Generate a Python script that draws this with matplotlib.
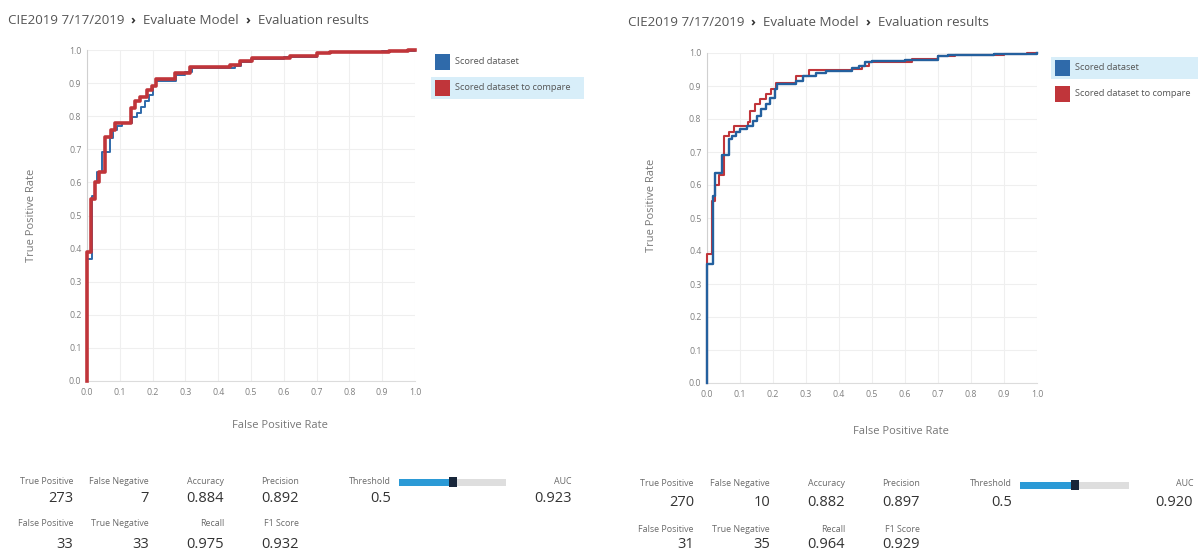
import matplotlib
matplotlib.use("Agg")
import matplotlib.pyplot as plt
from matplotlib.patches import Rectangle

W, H = 1198, 554

# ---- text content -------------------------------------------------------
BREADCRUMB = ["CIE2019 7/17/2019", "Evaluate Model", "Evaluation results"]
SERIES_NAMES = ["Scored dataset", "Scored dataset to compare"]
AXIS_TICKS = [0.0, 0.1, 0.2, 0.3, 0.4, 0.5, 0.6, 0.7, 0.8, 0.9, 1.0]
X_TITLE = "False Positive Rate"
Y_TITLE = "True Positive Rate"
COUNT_LABELS = ["True Positive", "False Negative", "False Positive", "True Negative"]
SCORE_LABELS = ["Accuracy", "Precision", "Recall", "F1 Score"]

# ---- left run: ROC curves (fpr where the curve rises, tpr it rises to) ----
left_scored_fpr = [0.0, 0.0, 0.015, 0.024, 0.030, 0.045, 0.070, 0.080, 0.090, 0.107,
                   0.136, 0.152, 0.166, 0.178, 0.190, 0.200, 0.210, 0.270, 0.300,
                   0.320, 0.450, 0.470, 0.500, 0.600, 0.700, 0.740, 0.900, 1.0]
left_scored_tpr = [0.0, 0.37, 0.56, 0.60, 0.632, 0.693, 0.733, 0.758, 0.770, 0.780,
                   0.797, 0.810, 0.829, 0.845, 0.864, 0.890, 0.905, 0.925, 0.935,
                   0.945, 0.953, 0.965, 0.973, 0.980, 0.990, 0.995, 0.998, 1.0]
left_compare_fpr = [0.0, 0.0, 0.012, 0.024, 0.038, 0.055, 0.072, 0.085, 0.133, 0.146,
                    0.162, 0.184, 0.197, 0.210, 0.268, 0.314, 0.436, 0.466, 0.502,
                    0.620, 0.700, 0.740, 0.920, 0.980, 1.0]
left_compare_tpr = [0.0, 0.39, 0.55, 0.60, 0.632, 0.738, 0.758, 0.780, 0.824, 0.846,
                    0.857, 0.879, 0.890, 0.911, 0.931, 0.949, 0.955, 0.968, 0.975,
                    0.982, 0.990, 0.995, 0.998, 1.0, 1.0]
left_counts = [273, 7, 33, 33]
left_scores = [0.884, 0.892, 0.975, 0.932]
left_threshold = 0.5
left_auc = 0.923

# ---- right run -------------------------------------------------------------
right_scored_fpr = [0.0, 0.0, 0.017, 0.024, 0.045, 0.067, 0.077, 0.088, 0.100, 0.120,
                    0.140, 0.150, 0.165, 0.180, 0.190, 0.206, 0.213, 0.270, 0.290,
                    0.330, 0.360, 0.440, 0.460, 0.480, 0.500, 0.600, 0.700, 0.730,
                    0.870, 1.0]
right_scored_tpr = [0.0, 0.36, 0.568, 0.637, 0.690, 0.739, 0.750, 0.760, 0.770, 0.780,
                    0.795, 0.810, 0.830, 0.845, 0.865, 0.890, 0.905, 0.915, 0.930,
                    0.940, 0.945, 0.955, 0.962, 0.972, 0.975, 0.980, 0.990, 0.995,
                    0.998, 1.0]
right_compare_fpr = [0.0, 0.0, 0.015, 0.025, 0.035, 0.052, 0.068, 0.083, 0.125, 0.130,
                     0.145, 0.160, 0.180, 0.195, 0.210, 0.270, 0.310, 0.440, 0.470,
                     0.490, 0.620, 0.700, 0.750, 0.900, 0.970, 1.0]
right_compare_tpr = [0.0, 0.39, 0.55, 0.60, 0.630, 0.750, 0.760, 0.780, 0.790, 0.825,
                     0.845, 0.860, 0.875, 0.890, 0.910, 0.930, 0.948, 0.953, 0.962,
                     0.972, 0.982, 0.990, 0.995, 0.998, 1.0, 1.0]
right_counts = [270, 10, 31, 35]
right_scores = [0.882, 0.897, 0.964, 0.929]
right_threshold = 0.5
right_auc = 0.920

# ---- styling ---------------------------------------------------------------
FONT = ["Open Sans", "DejaVu Sans"]
plt.rcParams["font.family"] = FONT
BLUE = "#2f6aaa"
RED = "#c0353a"
HIGHLIGHT = "#d8eef9"
GRID = "#efefef"
LABEL_GREY = "#6a6a6a"
VALUE_GREY = "#333333"
LABEL_SIZE = 6.4
VALUE_SIZE = 10.5

fig = plt.figure(figsize=(W / 100, H / 100), dpi=100)
fig.patch.set_facecolor("white")

# full-figure canvas in pixel units (y grows downward) for the page chrome
bg = fig.add_axes([0, 0, 1, 1], zorder=0)
bg.set_xlim(0, W)
bg.set_ylim(H, 0)
bg.axis("off")


def breadcrumb(x, y):
    t = bg.text(x, y, BREADCRUMB[0], ha="left", va="center", fontsize=9.6,
                color="#555555")
    for part in BREADCRUMB[1:]:
        t = bg.annotate("  \u203a  ", xy=(1, 0), xycoords=t, ha="left", va="bottom",
                        fontsize=9.6, fontweight="bold", color="#333333")
        t = bg.annotate(part, xy=(1, 0), xycoords=t, ha="left", va="bottom",
                        fontsize=9.6, color="#555555")


def roc_axes(box, scored, compare, on_top):
    x0, y0, x1, y1 = box
    ax = fig.add_axes([x0 / W, 1 - y1 / H, (x1 - x0) / W, (y1 - y0) / H], zorder=2)
    ax.set_facecolor("none")
    ax.set_xlim(0, 1)
    ax.set_ylim(0, 1)
    ax.set_xticks(AXIS_TICKS)
    ax.set_yticks(AXIS_TICKS)
    ax.set_xticklabels([f"{v:.1f}" for v in AXIS_TICKS])
    ax.set_yticklabels([f"{v:.1f}" for v in AXIS_TICKS])
    ax.tick_params(length=0, labelsize=6.3, labelcolor="#808080")
    ax.tick_params(axis="x", pad=5)
    ax.tick_params(axis="y", pad=4)
    ax.grid(True, color=GRID, lw=0.8)
    ax.set_axisbelow(True)
    for side in ("top", "right"):
        ax.spines[side].set_visible(False)
    ax.spines["left"].set_color("#d0d0d0")
    ax.spines["bottom"].set_color("#dcdcdc")
    (sf, st), (cf, ct) = scored, compare
    if on_top == "compare":
        ax.plot(sf, st, drawstyle="steps-post", color=BLUE, lw=1.4, clip_on=False, zorder=3)
        ax.plot(cf, ct, drawstyle="steps-post", color=RED, lw=2.6, clip_on=False, zorder=4)
    else:
        ax.plot(cf, ct, drawstyle="steps-post", color=RED, lw=1.5, clip_on=False, zorder=3)
        ax.plot(sf, st, drawstyle="steps-post", color="#24609e", lw=1.7, clip_on=False, zorder=4)
    return ax


def legend(x, y, highlighted, band_width):
    # two swatches with labels; the selected series gets a highlight band
    for i, (name, col) in enumerate(zip(SERIES_NAMES, [BLUE, RED])):
        yy = y + i * 26
        if i == highlighted:
            bg.add_patch(Rectangle((x - 4, yy - 3), band_width, 22,
                                   color=HIGHLIGHT, lw=0))
        bg.add_patch(Rectangle((x, yy), 15, 16, color=col, lw=0))
        bg.text(x + 20, yy + 8, name, ha="left", va="center", fontsize=6.7,
                color="#555555")


def metrics(dx, rows, counts, scores, threshold, auc, slider):
    cols = [73, 149, 224, 299]
    cl = [dx + c for c in cols]
    # counts block (confusion matrix) and score block
    for i in range(2):
        for j in range(2):
            k = i * 2 + j
            bg.text(cl[j], rows[2 * i], COUNT_LABELS[k], ha="right", va="center",
                    fontsize=LABEL_SIZE, color=LABEL_GREY)
            bg.text(cl[j], rows[2 * i + 1], f"{counts[k]}", ha="right", va="center",
                    fontsize=VALUE_SIZE, color=VALUE_GREY)
            bg.text(cl[2 + j], rows[2 * i], SCORE_LABELS[k], ha="right", va="center",
                    fontsize=LABEL_SIZE, color=LABEL_GREY)
            bg.text(cl[2 + j], rows[2 * i + 1], f"{scores[k]:.3f}", ha="right",
                    va="center", fontsize=VALUE_SIZE, color=VALUE_GREY)
    # threshold slider
    tx = dx + 391
    bg.text(tx, rows[0], "Threshold", ha="right", va="center", fontsize=LABEL_SIZE,
            color=LABEL_GREY)
    bg.text(tx, rows[1], f"{threshold:g}", ha="right", va="center",
            fontsize=VALUE_SIZE, color=VALUE_GREY)
    s0, s1, sy = slider
    bg.add_patch(Rectangle((s0, sy - 3.5), s1 - s0, 7, color="#dedede", lw=0))
    pos = s0 + threshold * (s1 - s0)
    bg.add_patch(Rectangle((s0, sy - 3.5), pos - s0, 7, color="#2b9ad6", lw=0))
    bg.add_patch(Rectangle((pos - 4, sy - 5), 8, 10, color="#18263a", lw=0))
    # AUC
    ax_ = dx + 572
    bg.text(ax_, rows[0], "AUC", ha="right", va="center", fontsize=LABEL_SIZE,
            color=LABEL_GREY)
    bg.text(ax_, rows[1], f"{auc:.3f}", ha="right", va="center", fontsize=VALUE_SIZE,
            color=VALUE_GREY)


# ---- left panel ---------------------------------------------------------------
breadcrumb(8, 20)
roc_axes((87, 50, 415, 381), (left_scored_fpr, left_scored_tpr),
         (left_compare_fpr, left_compare_tpr), on_top="compare")
bg.text(31, 215, Y_TITLE, rotation=90, ha="center", va="center", fontsize=8,
        color="#777777")
bg.text(280, 425, X_TITLE, ha="center", va="center", fontsize=8, color="#777777")
legend(435, 54, highlighted=1, band_width=153)
metrics(0, [481, 499, 524, 544], left_counts, left_scores, left_threshold,
        left_auc, (399, 506, 482))

# ---- right panel --------------------------------------------------------------
breadcrumb(628, 22)
roc_axes((707, 53, 1037, 383), (right_scored_fpr, right_scored_tpr),
         (right_compare_fpr, right_compare_tpr), on_top="scored")
bg.text(651, 205, Y_TITLE, rotation=90, ha="center", va="center", fontsize=8,
        color="#777777")
bg.text(901, 431, X_TITLE, ha="center", va="center", fontsize=8, color="#777777")
legend(1055, 60, highlighted=0, band_width=147)
metrics(621, [484, 502, 529, 545], right_counts, right_scores, right_threshold,
        right_auc, (1020, 1129, 485))

fig.savefig("out.png", dpi=100, facecolor="white")
